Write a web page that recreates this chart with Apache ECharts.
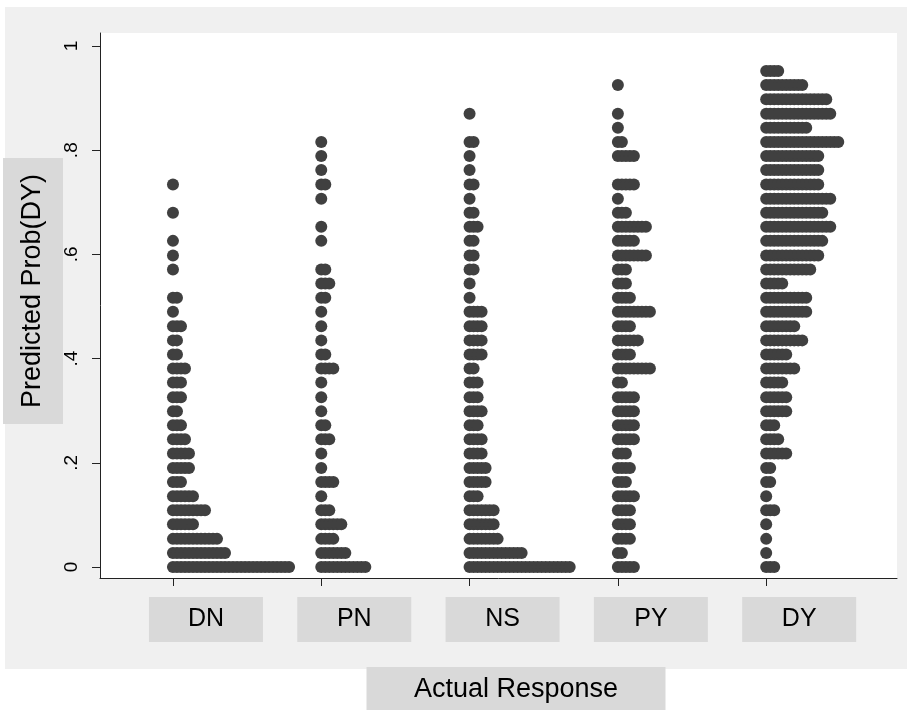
<!DOCTYPE html>
<html><head><meta charset="utf-8">
<script src="https://cdn.jsdelivr.net/npm/echarts@6/dist/echarts.min.js"></script>
<style>html,body{margin:0;padding:0;background:#fff}#c{width:912px;height:710px}</style>
</head><body><div id="c"></div>
<script>
// Response categories (x positions 0..4)
const categories = ['DN', 'PN', 'NS', 'PY', 'DY'];
// Predicted probability bins (y value of each dot row)
const binValues = [0, 0.027, 0.054, 0.082, 0.109, 0.136, 0.163, 0.190, 0.218, 0.245,
  0.272, 0.299, 0.326, 0.354, 0.381, 0.408, 0.435, 0.462, 0.490, 0.517,
  0.544, 0.571, 0.598, 0.626, 0.653, 0.680, 0.707, 0.734, 0.762, 0.789,
  0.816, 0.843, 0.870, 0.898, 0.925, 0.952];
// Number of observations in each bin, per category
const countsDN = [30, 14, 12, 6, 9, 6, 3, 5, 5, 4, 3, 2, 3, 3, 4, 2, 2, 3, 1, 2, 0, 1, 1, 1, 0, 1, 0, 1, 0, 0, 0, 0, 0, 0, 0, 0];
const countsPN = [12, 7, 4, 6, 3, 1, 4, 1, 1, 3, 2, 1, 1, 1, 4, 2, 1, 1, 1, 2, 3, 2, 0, 1, 1, 0, 1, 2, 1, 1, 1, 0, 0, 0, 0, 0];
const countsNS = [26, 14, 8, 7, 7, 3, 5, 5, 4, 4, 3, 4, 3, 3, 2, 4, 4, 4, 4, 1, 1, 2, 2, 2, 3, 2, 1, 2, 1, 1, 2, 0, 1, 0, 0, 0];
const countsPY = [5, 2, 4, 4, 4, 5, 3, 4, 3, 5, 5, 5, 5, 2, 9, 4, 6, 4, 9, 4, 3, 3, 8, 5, 8, 3, 1, 5, 0, 5, 2, 1, 1, 0, 1, 0];
const countsDY = [3, 1, 1, 1, 3, 1, 2, 2, 6, 4, 3, 6, 6, 5, 8, 6, 10, 8, 11, 11, 5, 12, 14, 15, 17, 15, 17, 14, 14, 14, 19, 11, 17, 16, 10, 4];
const yTickValues = [0, 0.2, 0.4, 0.6, 0.8, 1];
const yTickLabels = ['0', '.2', '.4', '.6', '.8', '1'];

const allCounts = [countsDN, countsPN, countsNS, countsPY, countsDY];
const dotStep = 0.027; // horizontal offset between stacked dots (x units)
const points = [];
allCounts.forEach(function (counts, c) {
  counts.forEach(function (n, k) {
    for (let j = 0; j < n; j++) points.push([c + j * dotStep, binValues[k]]);
  });
});

const FONT = 'Liberation Sans, Arial, sans-serif';
const chart = echarts.init(document.getElementById('c'), null, {renderer: 'canvas'});
chart.setOption({
  backgroundColor: '#ffffff',
  animation: false,
  graphic: [{
    type: 'rect', z: -100, silent: true,
    shape: {x: 5, y: 7, width: 902, height: 662},
    style: {fill: '#f0f0f0'}
  }],
  grid: {left: 100, right: 15, top: 33, bottom: 132, show: true, backgroundColor: '#ffffff',
         borderWidth: 0, containLabel: false, outerBoundsMode: 'none'},
  xAxis: {
    type: 'value', min: -0.492, max: 4.882,
    name: '{sp|}{b|Actual Response}',
    nameLocation: 'middle', nameGap: 89, nameMoveOverlap: false,
    nameTextStyle: {
      rich: {
        sp: {width: 35},
        b: {width: 299, height: 46, backgroundColor: '#d9d9d9', align: 'center',
            fontSize: 27, fontFamily: FONT, color: '#000'}
      }
    },
    axisLine: {show: true, onZero: false, lineStyle: {color: '#222', width: 1}},
    axisTick: {show: true, customValues: [0, 1, 2, 3, 4], length: 8, lineStyle: {color: '#222'}},
    axisLabel: {
      customValues: [0, 1, 2, 3, 4], margin: 19, hideOverlap: false,
      showMinLabel: true, showMaxLabel: true,
      formatter: function (v) { return '{sp|}{box|' + categories[Math.round(v)] + '}'; },
      rich: {
        sp: {width: 66},
        box: {width: 114, height: 45, backgroundColor: '#d9d9d9', align: 'center',
              fontSize: 25, fontFamily: FONT, color: '#000'}
      }
    },
    splitLine: {show: false}
  },
  yAxis: {
    type: 'value', min: -0.0211, max: 1.025,
    name: '{sp|}{b|Predicted Prob(DY)}',
    nameLocation: 'middle', nameGap: 37, nameRotate: 90, nameMoveOverlap: false,
    nameTextStyle: {
      rich: {
        sp: {width: 29},
        b: {width: 266, height: 60, backgroundColor: '#d9d9d9', align: 'center',
            fontSize: 27, fontFamily: FONT, color: '#000'}
      }
    },
    axisLine: {show: true, onZero: false, lineStyle: {color: '#222', width: 1}},
    axisTick: {show: true, customValues: yTickValues, length: 8, lineStyle: {color: '#222'}},
    axisLabel: {
      customValues: yTickValues, rotate: 90, margin: 19, hideOverlap: false,
      showMinLabel: true, showMaxLabel: true,
      fontSize: 19, fontFamily: FONT, color: '#000',
      formatter: function (v) {
        const i = yTickValues.findIndex(function (t) { return Math.abs(t - v) < 1e-6; });
        return i >= 0 ? yTickLabels[i] : '';
      }
    },
    splitLine: {show: false}
  },
  series: [{
    type: 'scatter',
    data: points,
    symbol: 'circle',
    symbolSize: 12,
    itemStyle: {color: '#404040', opacity: 1},
    silent: true
  }]
});
</script>
</body></html>
